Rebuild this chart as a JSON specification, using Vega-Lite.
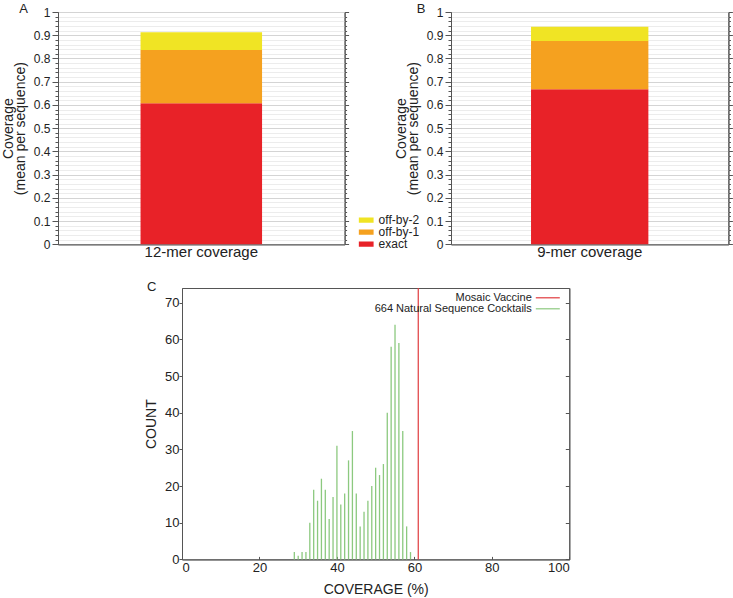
{
  "$schema": "https://vega.github.io/schema/vega-lite/v6.json",
  "padding": {"left": 0, "top": 2, "right": 0, "bottom": 0},
  "background": "white",
  "config": {
    "font": "Liberation Sans",
    "view": {"stroke": "#555", "strokeWidth": 1},
    "axis": {"labelColor": "#222", "titleColor": "#222", "domainColor": "#555", "tickColor": "#555", "labelFont": "Liberation Sans", "titleFont": "Liberation Sans", "titleFontWeight": "normal"},
    "legend": {"labelFont": "Liberation Sans", "labelColor": "#222", "padding": 0},
    "title": {"font": "Liberation Sans", "fontWeight": "normal", "fontSize": 13, "color": "#222", "anchor": "start", "frame": "group"}
  },
  "datasets": {
    "twelve": [
      {"kmer": "12-mer coverage", "type": "exact", "order": 1, "value": 0.607},
      {"kmer": "12-mer coverage", "type": "off-by-1", "order": 2, "value": 0.229},
      {"kmer": "12-mer coverage", "type": "off-by-2", "order": 3, "value": 0.077}
    ],
    "nine": [
      {"kmer": "9-mer coverage", "type": "exact", "order": 1, "value": 0.667},
      {"kmer": "9-mer coverage", "type": "off-by-1", "order": 2, "value": 0.208},
      {"kmer": "9-mer coverage", "type": "off-by-2", "order": 3, "value": 0.062}
    ],
    "hist": [
      {"coverage": 29, "count": 2}, {"coverage": 30, "count": 1}, {"coverage": 31, "count": 2}, {"coverage": 32, "count": 2},
      {"coverage": 33, "count": 10}, {"coverage": 34, "count": 19}, {"coverage": 35, "count": 16}, {"coverage": 36, "count": 22},
      {"coverage": 37, "count": 19}, {"coverage": 38, "count": 11}, {"coverage": 39, "count": 17}, {"coverage": 40, "count": 31},
      {"coverage": 41, "count": 15}, {"coverage": 42, "count": 18}, {"coverage": 43, "count": 27}, {"coverage": 44, "count": 35},
      {"coverage": 45, "count": 18}, {"coverage": 46, "count": 9}, {"coverage": 47, "count": 13}, {"coverage": 48, "count": 16},
      {"coverage": 49, "count": 20}, {"coverage": 50, "count": 25}, {"coverage": 51, "count": 23}, {"coverage": 52, "count": 26},
      {"coverage": 53, "count": 40}, {"coverage": 54, "count": 58}, {"coverage": 55, "count": 64}, {"coverage": 56, "count": 59},
      {"coverage": 57, "count": 35}, {"coverage": 58, "count": 9}, {"coverage": 59, "count": 2}
    ],
    "vaccine": [{"coverage": 61}]
  },
  "spacing": 20,
  "resolve": {"scale": {"color": "independent"}, "legend": {"color": "independent"}},
  "vconcat": [
    {
      "bounds": "flush",
      "spacing": 106,
      "resolve": {"scale": {"color": "independent"}, "legend": {"color": "independent"}},
      "hconcat": [
        {
          "width": 286.6,
          "height": 232.3,
          "title": {"text": "A", "dx": -38.7, "offset": -19.9, "baseline": "alphabetic"},
          "data": {"name": "twelve"},
          "layer": [
            {
              "mark": {"type": "bar", "width": {"band": 0.424}},
              "encoding": {
                "x": {"field": "kmer", "type": "nominal", "scale": {"paddingInner": 0, "paddingOuter": 0}, "axis": {"title": null, "labelAngle": 0, "ticks": false, "labelFontSize": 15, "labelPadding": 0, "labelColor": "#222"}},
                "y": {"field": "value", "type": "quantitative", "stack": "zero", "scale": {"domain": [0, 1], "nice": false},
                  "axis": {"orient": "left", "values": [0,0.02,0.04,0.06,0.08,0.1,0.12,0.14,0.16,0.18,0.2,0.22,0.24,0.26,0.28,0.3,0.32,0.34,0.36,0.38,0.4,0.42,0.44,0.46,0.48,0.5,0.52,0.54,0.56,0.58,0.6,0.62,0.64,0.66,0.68,0.7,0.72,0.74,0.76,0.78,0.8,0.82,0.84,0.86,0.88,0.9,0.92,0.94,0.96,0.98,1],
                    "labelExpr": "abs(datum.value*10 - round(datum.value*10)) < 0.001 ? format(datum.value, '~g') : ''",
                    "labelOverlap": false, "labelFontSize": 12, "labelPadding": 2,
                    "tickSize": {"condition": {"test": "abs(datum.value*10 - round(datum.value*10)) < 0.001", "value": 6}, "value": 3},
                    "grid": true,
                    "gridColor": {"condition": {"test": "abs(datum.value*10 - round(datum.value*10)) < 0.001", "value": "#d4d4d4"}, "value": "#ececec"},
                    "title": ["Coverage", "(mean per sequence)"], "titleFontSize": 14, "titleLineHeight": 12, "titlePadding": 6}},
                "color": {"field": "type", "type": "nominal", "scale": {"domain": ["off-by-2", "off-by-1", "exact"], "range": ["#f0e424", "#f5a11f", "#e82228"]},
                  "legend": {"orient": "none", "legendX": 300.6, "legendY": 202, "title": null, "symbolType": "M-1,-0.35H1V0.35H-1Z", "symbolSize": 225, "symbolStrokeWidth": 0, "labelFontSize": 12, "clipHeight": 12, "rowPadding": -1.5, "labelOffset": 5}},
                "order": {"field": "order", "type": "quantitative"}
              }
            },
            {
              "mark": {"type": "bar", "opacity": 0},
              "encoding": {
                "y": {"field": "value", "type": "quantitative", "stack": null, "scale": {"domain": [0, 1], "nice": false},
                  "axis": {"orient": "right", "values": [0,0.02,0.04,0.06,0.08,0.1,0.12,0.14,0.16,0.18,0.2,0.22,0.24,0.26,0.28,0.3,0.32,0.34,0.36,0.38,0.4,0.42,0.44,0.46,0.48,0.5,0.52,0.54,0.56,0.58,0.6,0.62,0.64,0.66,0.68,0.7,0.72,0.74,0.76,0.78,0.8,0.82,0.84,0.86,0.88,0.9,0.92,0.94,0.96,0.98,1],
                    "labels": false, "title": null, "grid": false,
                    "tickSize": {"condition": {"test": "abs(datum.value*10 - round(datum.value*10)) < 0.001", "value": 4}, "value": 2}}}
              }
            }
          ],
          "resolve": {"axis": {"y": "independent"}}
        },
        {
          "width": 277.4,
          "height": 232.3,
          "title": {"text": "B", "dx": -34.3, "offset": -19.9, "baseline": "alphabetic"},
          "data": {"name": "nine"},
          "layer": [
            {
              "mark": {"type": "bar", "width": {"band": 0.423}},
              "encoding": {
                "x": {"field": "kmer", "type": "nominal", "scale": {"paddingInner": 0, "paddingOuter": 0}, "axis": {"title": null, "labelAngle": 0, "ticks": false, "labelFontSize": 15, "labelPadding": 0, "labelColor": "#222"}},
                "y": {"field": "value", "type": "quantitative", "stack": "zero", "scale": {"domain": [0, 1], "nice": false},
                  "axis": {"orient": "left", "values": [0,0.02,0.04,0.06,0.08,0.1,0.12,0.14,0.16,0.18,0.2,0.22,0.24,0.26,0.28,0.3,0.32,0.34,0.36,0.38,0.4,0.42,0.44,0.46,0.48,0.5,0.52,0.54,0.56,0.58,0.6,0.62,0.64,0.66,0.68,0.7,0.72,0.74,0.76,0.78,0.8,0.82,0.84,0.86,0.88,0.9,0.92,0.94,0.96,0.98,1],
                    "labelExpr": "abs(datum.value*10 - round(datum.value*10)) < 0.001 ? format(datum.value, '~g') : ''",
                    "labelOverlap": false, "labelFontSize": 12, "labelPadding": 2,
                    "tickSize": {"condition": {"test": "abs(datum.value*10 - round(datum.value*10)) < 0.001", "value": 6}, "value": 3},
                    "grid": true,
                    "gridColor": {"condition": {"test": "abs(datum.value*10 - round(datum.value*10)) < 0.001", "value": "#d4d4d4"}, "value": "#ececec"},
                    "title": ["Coverage", "(mean per sequence)"], "titleFontSize": 14, "titleLineHeight": 12, "titlePadding": 6}},
                "color": {"field": "type", "type": "nominal", "scale": {"domain": ["off-by-2", "off-by-1", "exact"], "range": ["#f0e424", "#f5a11f", "#e82228"]}, "legend": null},
                "order": {"field": "order", "type": "quantitative"}
              }
            },
            {
              "mark": {"type": "bar", "opacity": 0},
              "encoding": {
                "y": {"field": "value", "type": "quantitative", "stack": null, "scale": {"domain": [0, 1], "nice": false},
                  "axis": {"orient": "right", "values": [0,0.02,0.04,0.06,0.08,0.1,0.12,0.14,0.16,0.18,0.2,0.22,0.24,0.26,0.28,0.3,0.32,0.34,0.36,0.38,0.4,0.42,0.44,0.46,0.48,0.5,0.52,0.54,0.56,0.58,0.6,0.62,0.64,0.66,0.68,0.7,0.72,0.74,0.76,0.78,0.8,0.82,0.84,0.86,0.88,0.9,0.92,0.94,0.96,0.98,1],
                    "labels": false, "title": null, "grid": false,
                    "tickSize": {"condition": {"test": "abs(datum.value*10 - round(datum.value*10)) < 0.001", "value": 4}, "value": 2}}}
              }
            }
          ],
          "resolve": {"axis": {"y": "independent"}}
        }
      ]
    },
    {
      "bounds": "flush",
      "spacing": 0,
      "hconcat": [
        {
          "width": 123.5,
          "height": 10,
          "view": {"stroke": null},
          "data": {"values": [{"t": ""}]},
          "mark": {"type": "text", "text": ""}
        },
        {
          "width": 387.3,
          "height": 271.4,
          "title": {"text": "C", "dx": -35, "offset": -16.2, "baseline": "alphabetic"},
          "layer": [
            {
              "data": {"name": "hist"},
              "mark": {"type": "rule", "strokeWidth": 1.3},
              "encoding": {
                "x": {"field": "coverage", "type": "quantitative", "scale": {"domain": [0, 100], "nice": false},
                  "axis": {"values": [0, 20, 40, 60, 80, 100], "tickSize": -3, "labelPadding": 5, "labelFontSize": 13, "grid": false, "title": "COVERAGE (%)", "titleFontSize": 14, "titlePadding": 8}},
                "y": {"field": "count", "type": "quantitative", "scale": {"domain": [0, 74], "nice": false},
                  "axis": {"orient": "left", "values": [0, 10, 20, 30, 40, 50, 60, 70], "tickSize": 3, "labelPadding": 0, "labelFontSize": 13, "grid": false, "title": "COUNT", "titleFontSize": 14, "titlePadding": 6}},
                "y2": {"datum": 0},
                "color": {"datum": "664 Natural Sequence Cocktails", "type": "nominal",
                  "scale": {"domain": ["Mosaic Vaccine", "664 Natural Sequence Cocktails"], "range": ["#e03a3e", "#8cc97f"]},
                  "legend": {"orient": "none", "legendX": 484.3, "legendY": 4.3, "title": null, "symbolType": "M-2.667,0H2.667", "symbolSize": 81, "symbolStrokeWidth": 1.2, "labelAlign": "right", "labelOffset": -21.5, "labelFontSize": 11, "labelLimit": 300, "rowPadding": -3}}
              }
            },
            {
              "data": {"name": "vaccine"},
              "mark": {"type": "rule", "strokeWidth": 1.2},
              "encoding": {
                "x": {"field": "coverage", "type": "quantitative"},
                "color": {"datum": "Mosaic Vaccine", "type": "nominal"}
              }
            },
            {
              "data": {"name": "hist"},
              "mark": {"type": "rule", "opacity": 0},
              "encoding": {
                "y": {"field": "count", "type": "quantitative", "scale": {"domain": [0, 74], "nice": false},
                  "axis": {"orient": "right", "values": [0, 10, 20, 30, 40, 50, 60, 70], "labels": false, "title": null, "grid": false, "tickSize": -4}}
              }
            }
          ],
          "resolve": {"axis": {"y": "independent"}}
        }
      ]
    }
  ]
}
